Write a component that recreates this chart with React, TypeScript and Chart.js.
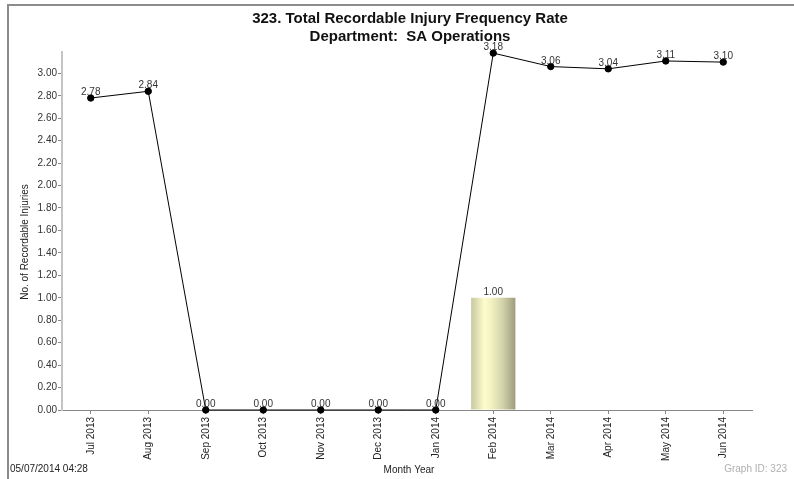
import React, { useEffect, useRef } from "react";
import { Chart, registerables } from "chart.js";

Chart.register(...registerables);

const categories = [
  "Jul 2013", "Aug 2013", "Sep 2013", "Oct 2013", "Nov 2013", "Dec 2013",
  "Jan 2014", "Feb 2014", "Mar 2014", "Apr 2014", "May 2014", "Jun 2014",
];
const rateValues = [2.78, 2.84, 0, 0, 0, 0, 0, 3.18, 3.06, 3.04, 3.11, 3.1];
const injuryCounts = [null, null, null, null, null, null, null, 1.0, null, null, null, null];
const titleLines = ["323. Total Recordable Injury Frequency Rate", "Department:  SA Operations"];
const yAxisTitle = "No. of Recordable Injuries";
const xAxisTitle = "Month Year";
const footerLeft = "05/07/2014 04:28";
const footerRight = "Graph ID: 323";

const FONT = '"Liberation Sans", Arial, sans-serif';
const W = 794;
const H = 479;

const decorPlugin = {
  id: "decor",
  beforeDraw(chart: any) {
    const ctx = chart.ctx;
    ctx.save();
    ctx.fillStyle = "#ffffff";
    ctx.fillRect(0, 0, W, H);
    ctx.strokeStyle = "#8c8c8c";
    ctx.lineWidth = 2;
    ctx.beginPath();
    ctx.moveTo(8, H);
    ctx.lineTo(8, 5);
    ctx.lineTo(W, 5);
    ctx.stroke();
    ctx.restore();
  },
  afterDraw(chart: any) {
    const ctx = chart.ctx;
    ctx.save();
    ctx.fillStyle = "#111";
    ctx.textAlign = "center";
    ctx.textBaseline = "alphabetic";
    ctx.font = `bold 15px ${FONT}`;
    ctx.fillText(titleLines[0], 410, 23);
    ctx.fillText(titleLines[1], 410, 41);

    ctx.font = `10px ${FONT}`;
    ctx.fillStyle = "#222";
    ctx.save();
    ctx.translate(25, 242);
    ctx.rotate(-Math.PI / 2);
    ctx.textBaseline = "middle";
    ctx.fillText(yAxisTitle, 0, 0);
    ctx.restore();

    ctx.textBaseline = "middle";
    ctx.fillText(xAxisTitle, 409, 470);
    ctx.textAlign = "left";
    ctx.fillText(footerLeft, 10, 469);
    ctx.textAlign = "right";
    ctx.fillStyle = "#b0b0b0";
    ctx.fillText(footerRight, 787, 469);
    ctx.restore();
  },
  afterDatasetsDraw(chart: any) {
    const ctx = chart.ctx;
    ctx.save();
    ctx.font = `10px ${FONT}`;
    ctx.fillStyle = "#333";
    ctx.textAlign = "center";
    ctx.textBaseline = "alphabetic";
    chart.data.datasets.forEach((ds: any, di: number) => {
      const meta = chart.getDatasetMeta(di);
      meta.data.forEach((el: any, i: number) => {
        const v = ds.data[i];
        if (v === null || v === undefined) return;
        if (ds.type === "bar" && !v) return;
        ctx.fillText(Number(v).toFixed(2), el.x, el.y - 3);
      });
    });
    ctx.restore();
  },
};

export default function App() {
  const ref = useRef<HTMLCanvasElement | null>(null);
  useEffect(() => {
    document.body.style.margin = "0";
    const canvas = ref.current!;
    const chart = new Chart(canvas, {
      type: "bar",
      data: {
        labels: categories,
        datasets: [
          {
            type: "line",
            label: "Rate",
            data: rateValues,
            borderColor: "#000",
            borderWidth: 1,
            pointBackgroundColor: "#000",
            pointBorderColor: "#000",
            pointRadius: 3.2,
            pointHoverRadius: 3.2,
            tension: 0,
            clip: false as any,
            order: 0,
          } as any,
          {
            type: "bar",
            label: "Injuries",
            data: injuryCounts,
            categoryPercentage: 1,
            barPercentage: 0.77,
            borderWidth: 0,
            order: 1,
            backgroundColor: (c: any) => {
              const chartObj = c.chart;
              const xs = chartObj.scales && chartObj.scales.x;
              if (!xs || c.dataIndex === undefined) return "#e0e0b0";
              const cx = xs.getPixelForValue(c.dataIndex);
              const bw = (xs.width / categories.length) * 0.77;
              if (!isFinite(cx) || !isFinite(bw) || bw <= 0) return "#e0e0b0";
              const g = chartObj.ctx.createLinearGradient(cx - bw / 2, 0, cx + bw / 2, 0);
              g.addColorStop(0, "#c9c9a2");
              g.addColorStop(0.12, "#dcdcb2");
              g.addColorStop(0.3, "#fdfdcc");
              g.addColorStop(0.45, "#f2f2c2");
              g.addColorStop(0.7, "#d4d4ac");
              g.addColorStop(1, "#9d9d7e");
              return g;
            },
          } as any,
        ],
      },
      options: {
        responsive: false,
        animation: false,
        devicePixelRatio: 1,
        layout: { padding: { top: 52, left: 0, right: 42, bottom: 0 } },
        plugins: {
          legend: { display: false },
          title: { display: false },
          tooltip: { enabled: false },
        },
        scales: {
          x: {
            offset: true,
            grid: {
              display: true,
              offset: false,
              drawOnChartArea: false,
              drawTicks: true,
              tickLength: 4,
              color: "#888",
            },
            border: { display: true, color: "#888", width: 1 },
            ticks: {
              minRotation: 90,
              maxRotation: 90,
              autoSkip: false,
              padding: 3,
              color: "#222",
              font: { family: FONT, size: 10 },
            },
            afterFit: (s: any) => {
              s.height = 69;
            },
          },
          y: {
            min: 0,
            max: 3.19,
            grid: {
              display: true,
              drawOnChartArea: false,
              drawTicks: true,
              tickLength: 4,
              color: "#888",
            },
            border: { display: true, color: "#c4c4c4", width: 2 },
            ticks: {
              stepSize: 0.2,
              padding: 1,
              color: "#333",
              font: { family: FONT, size: 10 },
              callback: (v: any) => Number(v).toFixed(2),
            },
            afterBuildTicks: (s: any) => {
              s.ticks = s.ticks.filter((t: any) => {
                const r = Math.round(t.value * 5) / 5;
                return Math.abs(r - t.value) < 1e-6;
              });
            },
            afterFit: (s: any) => {
              s.width = 62;
            },
          },
        },
      },
      plugins: [decorPlugin],
    });
    return () => chart.destroy();
  }, []);
  return (
    <canvas
      ref={ref}
      width={W}
      height={H}
      style={{ display: "block", width: W, height: H }}
    />
  );
}
